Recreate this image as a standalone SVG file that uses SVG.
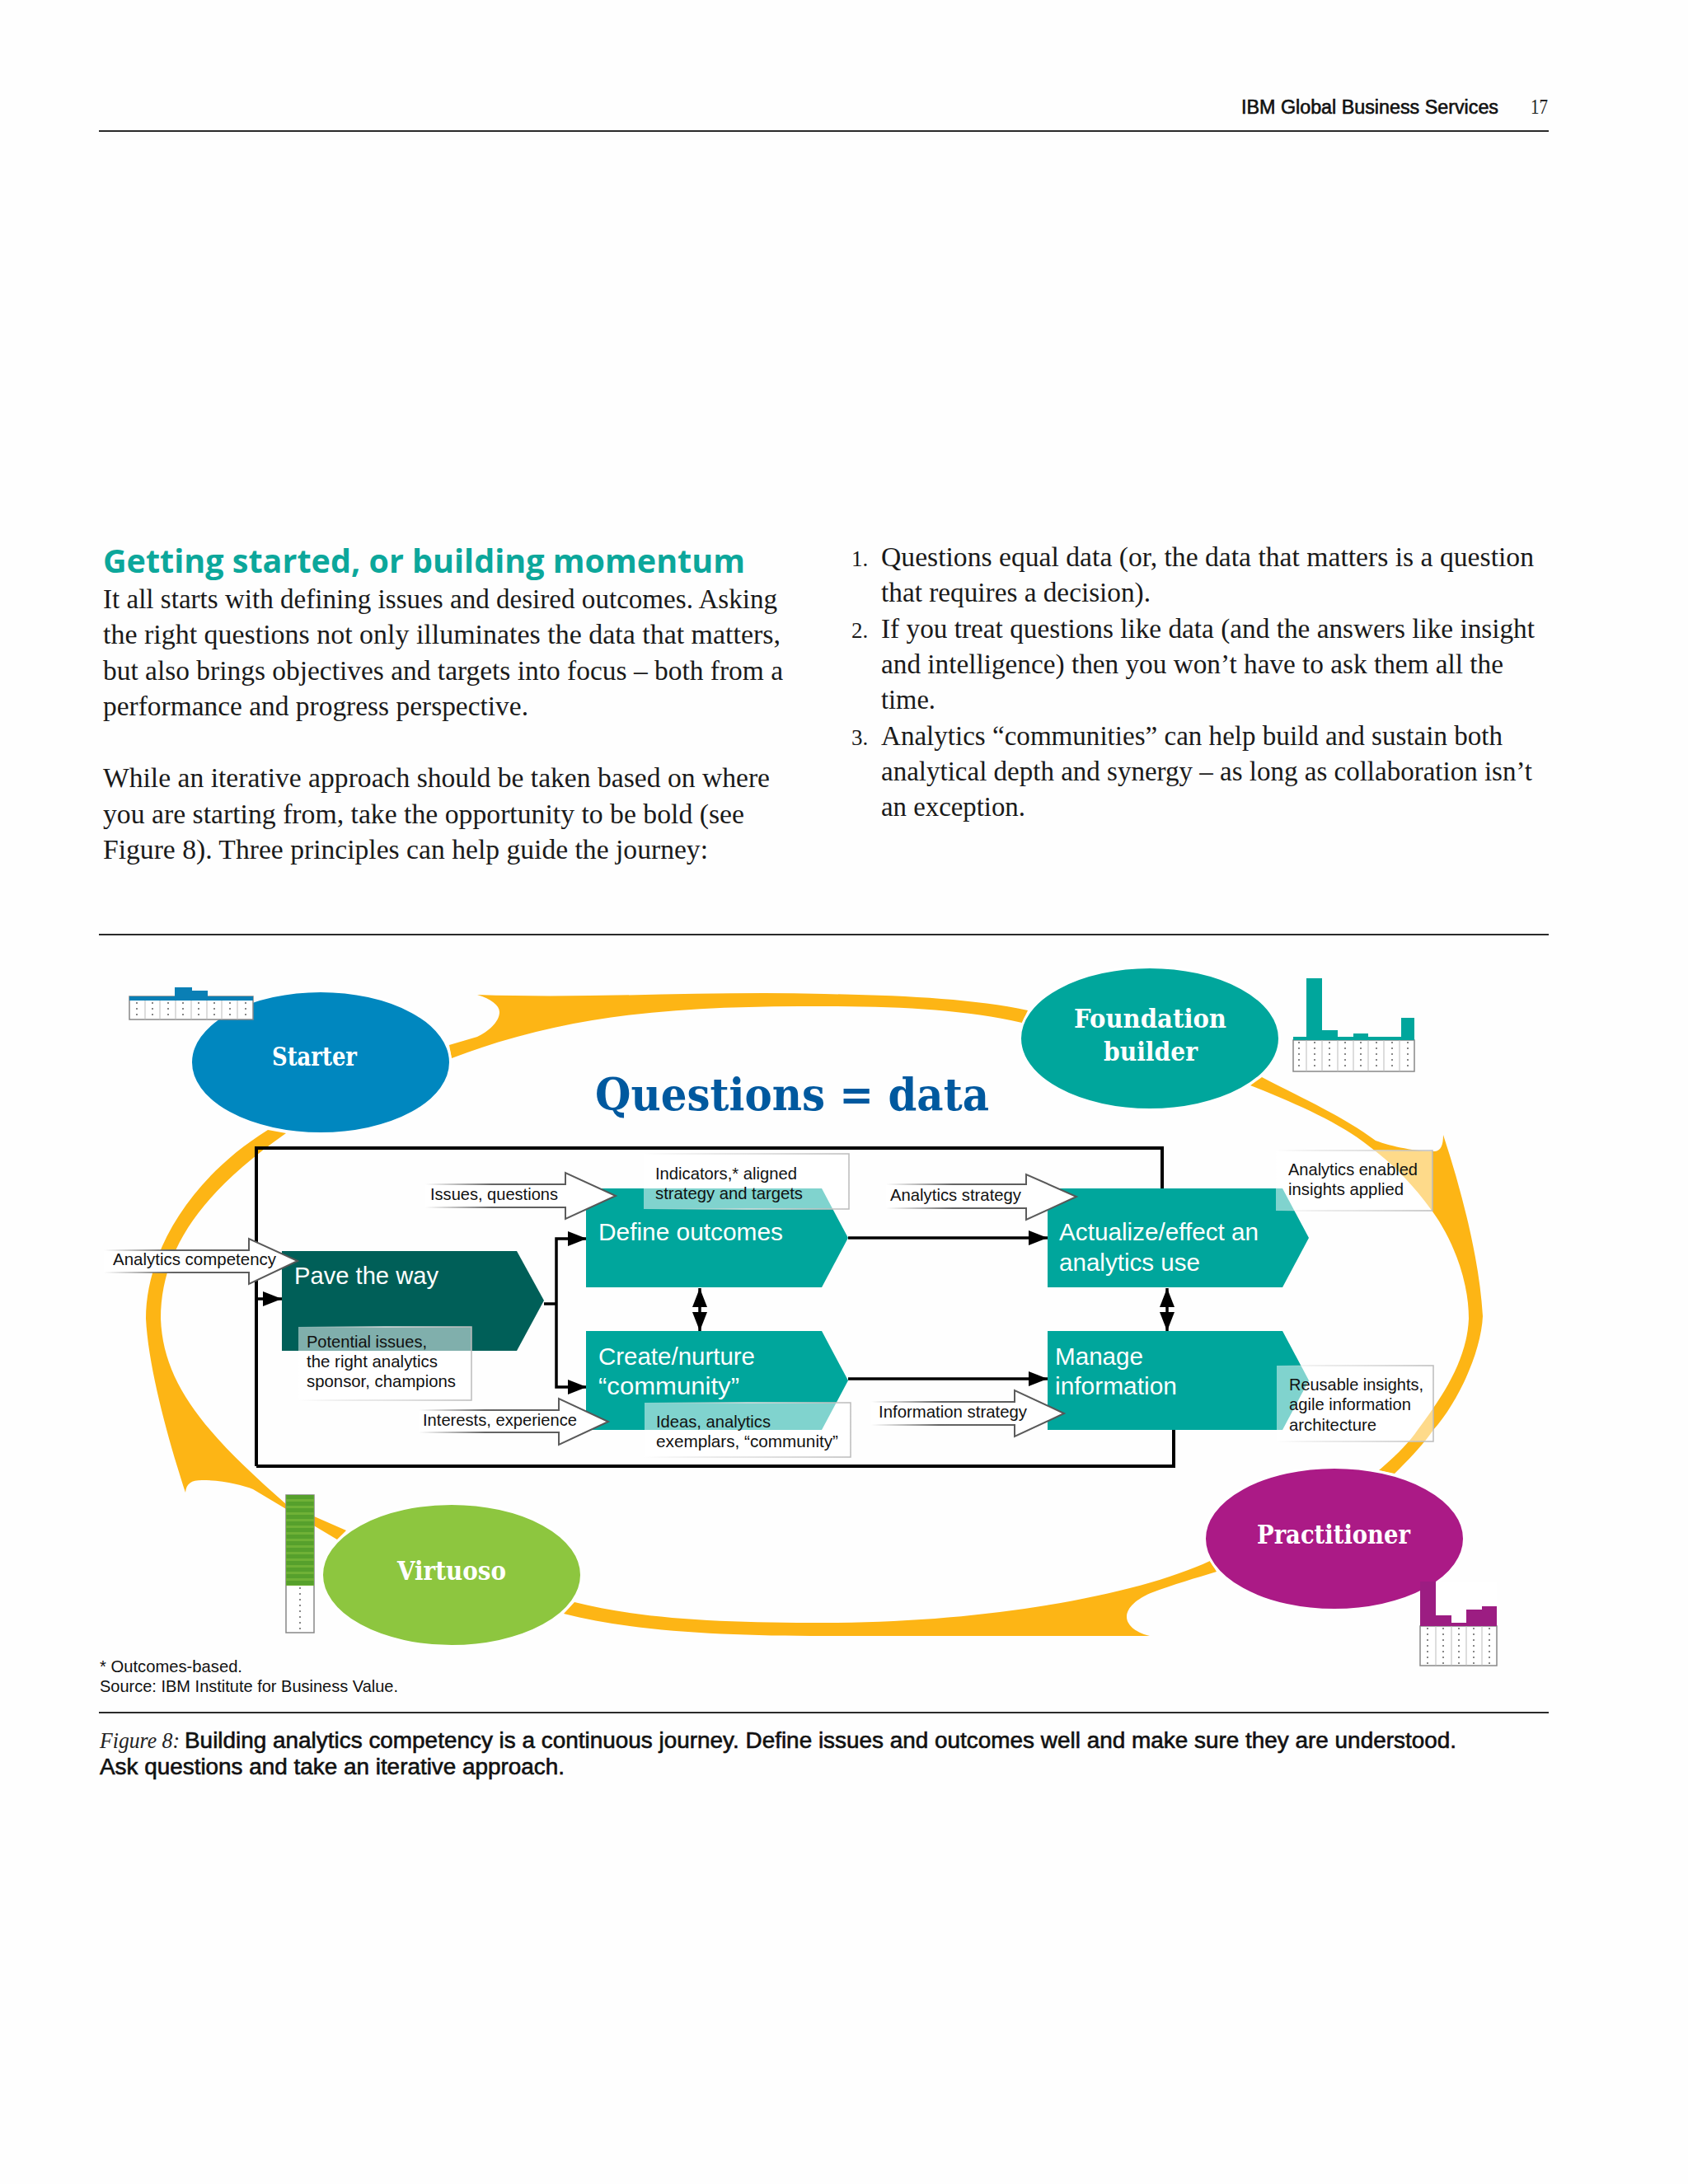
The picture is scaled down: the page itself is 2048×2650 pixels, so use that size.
<svg xmlns="http://www.w3.org/2000/svg" width="2048" height="2650" viewBox="0 0 2048 2650">
<style>
text{font-family:"Liberation Sans",Arial,sans-serif}
.body{font-family:"Liberation Serif","Times New Roman",serif;font-size:34px;fill:#1a1a1a}
.num{font-family:"Liberation Serif","Times New Roman",serif;font-size:27px;fill:#1a1a1a}
.slab{font-family:"DejaVu Serif",serif;font-weight:700;fill:#fff;font-size:31px}
.proc{font-size:30px;fill:#fff}
.small{font-size:21px;fill:#111}
.cap{font-size:27px;fill:#111;stroke:#111;stroke-width:.6}
.rule{stroke:#2a2a2a;stroke-width:2;fill:none}
.gold{fill:#fdb515}
.box{fill:none;stroke:#000;stroke-width:4}
.conn{fill:none;stroke:#000;stroke-width:3.5}
.teal{fill:#00a69c}
.over{fill:#fff;fill-opacity:.5;stroke:url(#fadebox);stroke-width:1.5}
.bf{fill:#fff}
.bs{fill:none;stroke:url(#fade);stroke-width:2}
.tbl{fill:#fff;stroke:#888;stroke-width:1.5}
.col{stroke:#bbb;stroke-width:1}
.dots{stroke:#888;stroke-width:2;stroke-dasharray:2 5}
</style>
<defs>
<linearGradient id="fade" x1="0" x2="1" y1="0" y2="0"><stop offset="0" stop-color="#777" stop-opacity="0"/><stop offset=".35" stop-color="#666"/><stop offset="1" stop-color="#555"/></linearGradient>
<linearGradient id="fadebox" x1="0" x2="1" y1="0" y2="0"><stop offset="0" stop-color="#ccc" stop-opacity="0"/><stop offset=".5" stop-color="#ddd"/><stop offset="1" stop-color="#bbb"/></linearGradient>
<marker id="ah" markerUnits="userSpaceOnUse" markerWidth="23" markerHeight="18" refX="23" refY="9" orient="auto-start-reverse"><path d="M0,0L23,9L0,18z" fill="#000"/></marker>
</defs>
<rect width="2048" height="2650" fill="#fefefe"/>
<g id="page-text">
<text x="1506" y="138" font-size="23" fill="#111" stroke="#111" stroke-width=".6" textLength="312" lengthAdjust="spacingAndGlyphs">IBM Global Business Services</text>
<text x="1857" y="138" font-size="26" style="font-family:'Liberation Serif',serif" fill="#222" textLength="21" lengthAdjust="spacingAndGlyphs">17</text>
<line class="rule" x1="120" y1="159" x2="1879" y2="159"/>
<text x="125" y="695" font-size="39" font-weight="700" fill="#0ca79b" style="font-family:'Open Sans',sans-serif" textLength="779" lengthAdjust="spacingAndGlyphs">Getting started, or building momentum</text>
<text class="body" x="125" y="738" textLength="818" lengthAdjust="spacingAndGlyphs">It all starts with defining issues and desired outcomes. Asking</text>
<text class="body" x="125" y="781" textLength="822" lengthAdjust="spacingAndGlyphs">the right questions not only illuminates the data that matters,</text>
<text class="body" x="125" y="825" textLength="825" lengthAdjust="spacingAndGlyphs">but also brings objectives and targets into focus – both from a</text>
<text class="body" x="125" y="868" textLength="516" lengthAdjust="spacingAndGlyphs">performance and progress perspective.</text>
<text class="body" x="125" y="955" textLength="809" lengthAdjust="spacingAndGlyphs">While an iterative approach should be taken based on where</text>
<text class="body" x="125" y="999" textLength="778" lengthAdjust="spacingAndGlyphs">you are starting from, take the opportunity to be bold (see</text>
<text class="body" x="125" y="1042" textLength="734" lengthAdjust="spacingAndGlyphs">Figure 8). Three principles can help guide the journey:</text>
<text class="num" x="1033" y="687">1.</text>
<text class="body" x="1069" y="687" textLength="792" lengthAdjust="spacingAndGlyphs">Questions equal data (or, the data that matters is a question</text>
<text class="body" x="1069" y="730" textLength="327" lengthAdjust="spacingAndGlyphs">that requires a decision).</text>
<text class="num" x="1033" y="774">2.</text>
<text class="body" x="1069" y="774" textLength="793" lengthAdjust="spacingAndGlyphs">If you treat questions like data (and the answers like insight</text>
<text class="body" x="1069" y="817" textLength="755" lengthAdjust="spacingAndGlyphs">and intelligence) then you won’t have to ask them all the</text>
<text class="body" x="1069" y="860" textLength="66" lengthAdjust="spacingAndGlyphs">time.</text>
<text class="num" x="1033" y="904">3.</text>
<text class="body" x="1069" y="904" textLength="754" lengthAdjust="spacingAndGlyphs">Analytics “communities” can help build and sustain both</text>
<text class="body" x="1069" y="947" textLength="790" lengthAdjust="spacingAndGlyphs">analytical depth and synergy – as long as collaboration isn’t</text>
<text class="body" x="1069" y="990" textLength="175" lengthAdjust="spacingAndGlyphs">an exception.</text>
<line class="rule" x1="120" y1="1134" x2="1879" y2="1134"/>
<line class="rule" x1="120" y1="2078" x2="1879" y2="2078"/>
<text class="small" x="121" y="2029" textLength="173" lengthAdjust="spacingAndGlyphs">* Outcomes-based.</text>
<text class="small" x="121" y="2053" textLength="362" lengthAdjust="spacingAndGlyphs">Source: IBM Institute for Business Value.</text>
<text x="121" y="2121" font-size="27" font-style="italic" fill="#222" style="font-family:'Liberation Serif',serif" textLength="97" lengthAdjust="spacingAndGlyphs">Figure 8:</text>
<text class="cap" x="224" y="2121" textLength="1543" lengthAdjust="spacingAndGlyphs">Building analytics competency is a continuous journey. Define issues and outcomes well and make sure they are understood.</text>
<text class="cap" x="121" y="2153" textLength="564" lengthAdjust="spacingAndGlyphs">Ask questions and take an iterative approach.</text>
<text x="722" y="1347" font-size="55" font-weight="700" fill="#00599f" style="font-family:'DejaVu Serif',serif" textLength="478" lengthAdjust="spacingAndGlyphs">Questions = data</text>
</g>
<g id="connectors">
<g id="ring">
<path class="gold" d="M545,1268L579,1258C592,1252 606,1240 606,1228C606,1220 596,1212 579,1207C720,1212 860,1202 1000,1206C1100,1208 1180,1212 1247,1226L1240,1241C1170,1225 1090,1221 1000,1221C840,1221 700,1226 548,1284Z"/>
<path class="gold" d="M1531,1307C1585,1335 1630,1355 1669,1384C1690,1392 1725,1398 1741,1397C1748,1396 1751,1390 1751,1377C1775,1450 1795,1530 1799,1597C1797,1640 1770,1700 1739,1735C1725,1755 1710,1770 1692,1788L1673,1784C1695,1765 1710,1750 1720,1735C1750,1695 1780,1650 1782,1600C1782,1550 1760,1500 1738,1470C1715,1438 1690,1412 1660,1390C1625,1362 1570,1338 1517,1317Z"/>
<path class="gold" d="M1468,1894C1380,1935 1200,1969 1000,1969C880,1969 780,1965 697,1944L684,1958C770,1980 880,1985 1000,1985L1395,1985C1375,1980 1367,1970 1367,1962C1367,1950 1380,1940 1396,1933C1425,1922 1450,1915 1476,1907Z"/>
<path class="gold" d="M420,1857L347,1825C250,1740 198,1680 195,1600C195,1520 240,1450 347,1375L325,1371C230,1430 177,1520 177,1600C180,1660 205,1750 225,1811C226,1800 232,1796 245,1796C270,1796 295,1802 307,1807L409,1868Z"/>
</g>
<path class="box" d="M311,1779V1393H1410V1442M311,1779H1424V1735"/>
<path class="conn" marker-end="url(#ah)" d="M311,1576H342"/>
<path class="conn" d="M660,1582H675"/>
<path class="conn" marker-end="url(#ah)" d="M675,1582V1503H712"/>
<path class="conn" marker-end="url(#ah)" d="M675,1582V1683H712"/>
<path class="conn" marker-end="url(#ah)" d="M1029,1502H1271"/>
<path class="conn" marker-end="url(#ah)" d="M1029,1673H1271"/>
<path class="conn" marker-start="url(#ah)" marker-end="url(#ah)" d="M849,1563V1615"/>
<path class="conn" marker-start="url(#ah)" marker-end="url(#ah)" d="M1416,1563V1615"/>
</g>
<g id="node-pave">
<polygon fill="#005f58" points="342,1518 627,1518 660,1578 627,1639 342,1639"/>
<text class="proc" x="357" y="1558" textLength="175" lengthAdjust="spacingAndGlyphs">Pave the way</text>
<rect class="over" x="362" y="1610" width="210" height="89"/>
<text class="small" x="372" y="1635" textLength="146" lengthAdjust="spacingAndGlyphs">Potential issues,</text>
<text class="small" x="372" y="1659" textLength="159" lengthAdjust="spacingAndGlyphs">the right analytics</text>
<text class="small" x="372" y="1683" textLength="181" lengthAdjust="spacingAndGlyphs">sponsor, champions</text>
</g>
<g id="node-define">
<polygon class="teal" points="711,1442 997,1442 1029,1502 997,1562 711,1562"/>
<text class="proc" x="726" y="1505" textLength="224" lengthAdjust="spacingAndGlyphs">Define outcomes</text>
<rect class="over" x="781" y="1400" width="249" height="67"/>
<text class="small" x="795" y="1431" textLength="172" lengthAdjust="spacingAndGlyphs">Indicators,* aligned</text>
<text class="small" x="795" y="1455" textLength="179" lengthAdjust="spacingAndGlyphs">strategy and targets</text>
</g>
<g id="node-create">
<polygon class="teal" points="711,1615 997,1615 1029,1675 997,1735 711,1735"/>
<text class="proc" x="726" y="1656" textLength="190" lengthAdjust="spacingAndGlyphs">Create/nurture</text>
<text class="proc" x="726" y="1692" textLength="171" lengthAdjust="spacingAndGlyphs">“community”</text>
<rect class="over" x="782" y="1702" width="250" height="66"/>
<text class="small" x="796" y="1732" textLength="139" lengthAdjust="spacingAndGlyphs">Ideas, analytics</text>
<text class="small" x="796" y="1756" textLength="221" lengthAdjust="spacingAndGlyphs">exemplars, “community”</text>
</g>
<g id="node-actualize">
<polygon class="teal" points="1271,1442 1556,1442 1588,1502 1556,1562 1271,1562"/>
<text class="proc" x="1285" y="1505" textLength="242" lengthAdjust="spacingAndGlyphs">Actualize/effect an</text>
<text class="proc" x="1285" y="1542" textLength="171" lengthAdjust="spacingAndGlyphs">analytics use</text>
<rect class="over" x="1548" y="1396" width="190" height="73"/>
<text class="small" x="1563" y="1426" textLength="157" lengthAdjust="spacingAndGlyphs">Analytics enabled</text>
<text class="small" x="1563" y="1450" textLength="140" lengthAdjust="spacingAndGlyphs">insights applied</text>
</g>
<g id="node-manage">
<polygon class="teal" points="1271,1615 1556,1615 1588,1675 1556,1735 1271,1735"/>
<text class="proc" x="1280" y="1656" textLength="107" lengthAdjust="spacingAndGlyphs">Manage</text>
<text class="proc" x="1280" y="1692" textLength="148" lengthAdjust="spacingAndGlyphs">information</text>
<rect class="over" x="1549" y="1657" width="190" height="92"/>
<text class="small" x="1564" y="1687" textLength="163" lengthAdjust="spacingAndGlyphs">Reusable insights,</text>
<text class="small" x="1564" y="1711" textLength="148" lengthAdjust="spacingAndGlyphs">agile information</text>
<text class="small" x="1564" y="1736" textLength="106" lengthAdjust="spacingAndGlyphs">architecture</text>
</g>
<g id="input-issues">
<polygon class="bf" points="516,1437 686,1437 686,1423 747,1451 686,1479 686,1465 516,1465"/>
<path class="bs" d="M516,1437H686V1423L747,1451L686,1479V1465H516"/>
<text class="small" x="522" y="1456" textLength="155" lengthAdjust="spacingAndGlyphs">Issues, questions</text>
</g>
<g id="input-competency">
<polygon class="bf" points="126,1517 302,1517 302,1503 361,1530 302,1558 302,1544 126,1544"/>
<path class="bs" d="M126,1517H302V1503L361,1530L302,1558V1544H126"/>
<text class="small" x="137" y="1535" textLength="198" lengthAdjust="spacingAndGlyphs">Analytics competency</text>
</g>
<g id="input-strategy">
<polygon class="bf" points="1075,1437 1245,1437 1245,1425 1306,1452 1245,1480 1245,1466 1075,1466"/>
<path class="bs" d="M1075,1437H1245V1425L1306,1452L1245,1480V1466H1075"/>
<text class="small" x="1080" y="1457" textLength="159" lengthAdjust="spacingAndGlyphs">Analytics strategy</text>
</g>
<g id="input-interests">
<polygon class="bf" points="508,1711 678,1711 678,1697 738,1725 678,1753 678,1738 508,1738"/>
<path class="bs" d="M508,1711H678V1697L738,1725L678,1753V1738H508"/>
<text class="small" x="513" y="1730" textLength="187" lengthAdjust="spacingAndGlyphs">Interests, experience</text>
</g>
<g id="input-information">
<polygon class="bf" points="1057,1701 1231,1701 1231,1687 1291,1715 1231,1743 1231,1729 1057,1729"/>
<path class="bs" d="M1057,1701H1231V1687L1291,1715L1231,1743V1729H1057"/>
<text class="small" x="1066" y="1720" textLength="180" lengthAdjust="spacingAndGlyphs">Information strategy</text>
</g>
<g id="node-starter">
<ellipse cx="389" cy="1289" rx="157.5" ry="86.5" fill="#0087bf" stroke="#fff" stroke-width="3"/>
<text class="slab" x="330" y="1293" textLength="103" lengthAdjust="spacingAndGlyphs">Starter</text>
<g id="chart-starter">
<rect class="tbl" x="157" y="1209" width="150" height="28"/>
<rect x="157" y="1209" width="150" height="5" fill="#0a7fb5"/>
<rect x="212" y="1198" width="21" height="16" fill="#0a7fb5"/>
<rect x="233" y="1202" width="19" height="12" fill="#0a7fb5"/>
<path class="col" d="M176,1214V1237M194,1214V1237M213,1214V1237M232,1214V1237M251,1214V1237M269,1214V1237M288,1214V1237"/>
<path class="dots" d="M166,1216V1236M185,1216V1236M204,1216V1236M222,1216V1236M241,1216V1236M260,1216V1236M279,1216V1236M298,1216V1236"/>
</g>
</g>
<g id="node-foundation">
<ellipse cx="1395" cy="1260" rx="157.5" ry="86.5" class="teal" stroke="#fff" stroke-width="3"/>
<text class="slab" x="1303" y="1247" textLength="185" lengthAdjust="spacingAndGlyphs">Foundation</text>
<text class="slab" x="1339" y="1287" textLength="114" lengthAdjust="spacingAndGlyphs">builder</text>
<g id="chart-foundation">
<rect class="tbl" x="1569" y="1262" width="147" height="38"/>
<path class="teal" d="M1569,1262V1258H1585V1187H1604V1250H1623V1258H1642V1254H1660V1258H1700V1235H1716V1262Z"/>
<path class="col" d="M1585,1262V1300M1604,1262V1300M1623,1262V1300M1642,1262V1300M1660,1262V1300M1679,1262V1300M1698,1262V1300"/>
<path class="dots" d="M1576,1264V1298M1595,1264V1298M1613,1264V1298M1632,1264V1298M1651,1264V1298M1670,1264V1298M1689,1264V1298M1708,1264V1298"/>
</g>
</g>
<g id="node-practitioner">
<ellipse cx="1619" cy="1867" rx="157.5" ry="86.5" fill="#ab1a86" stroke="#fff" stroke-width="3"/>
<text class="slab" x="1525" y="1873" textLength="186" lengthAdjust="spacingAndGlyphs">Practitioner</text>
<g id="chart-practitioner">
<rect x="1723" y="1919" width="93" height="54" fill="#fff" fill-opacity=".9"/>
<rect class="tbl" x="1723" y="1973" width="93" height="48"/>
<path fill="#9c1d82" d="M1723,1973V1919H1742V1960H1761V1969H1779V1953H1798V1949H1816V1973Z"/>
<path class="col" d="M1742,1973V2021M1761,1973V2021M1779,1973V2021M1798,1973V2021"/>
<path class="dots" d="M1732,1975V2020M1751,1975V2020M1770,1975V2020M1788,1975V2020M1807,1975V2020"/>
</g>
</g>
<g id="node-virtuoso">
<ellipse cx="548" cy="1911" rx="157.5" ry="86.5" fill="#8dc63f" stroke="#fff" stroke-width="3"/>
<text class="slab" x="482" y="1917" textLength="132" lengthAdjust="spacingAndGlyphs">Virtuoso</text>
<g id="chart-virtuoso">
<rect class="tbl" x="347" y="1814" width="34" height="167"/>
<rect x="347" y="1814" width="34" height="110" fill="#6fb136"/>
<line x1="364" y1="1814" x2="364" y2="1924" stroke="#56a02c" stroke-width="33" stroke-dasharray="5 3"/>
<path class="dots" d="M364,1926V1980"/>
</g>
</g>
</svg>
